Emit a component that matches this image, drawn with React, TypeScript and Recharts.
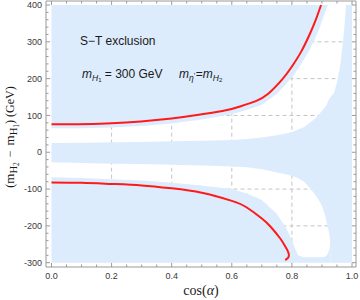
import React from 'react';
import { ComposedChart, Area, Line, XAxis, YAxis } from 'recharts';

// ---- region boundaries (read at common cos(alpha) samples) ----
const xs = [0, 0.1, 0.2, 0.3, 0.4, 0.5, 0.6, 0.65, 0.7, 0.75, 0.78, 0.8, 0.81, 0.82, 0.84, 0.86, 0.88, 0.89, 0.9, 0.91, 0.915, 0.92, 0.925, 0.927, 0.928, 0.93, 0.94, 0.95, 0.96, 0.97, 0.975, 0.98, 1.0];
// upper allowed (white) band: top edge and bottom edge
const upperWhiteTop = [65, 65, 67, 71, 78, 89, 103, 115, 129, 159, 185, 204, 214, 226, 252, 280, 314, 333, 356, 378, 389, 400, 400, 400, 400, 400, 400, 400, 400, 400, 400, 400, 400];
const upperWhiteBottom = [25, 26, 27, 28, 30, 31, 33, 36, 40, 46, 51, 55, 58, 62, 68, 80, 93, 103, 112, 122, 128, 138, 146, 148, 149, 152, 160, 190, 232, 300, 345, 400, 400];
// lower allowed (white) band: top edge and bottom edge
const lowerWhiteTop = [-27, -29, -31, -32, -34, -36, -39, -41, -46, -55, -60, -64, -67, -70, -80, -97, -118, -131, -145, -170, -188, -205, -225, -240, -300, -300, -300, -300, -300, -300, -300, -300, -300];
const lowerWhiteBottom = [-68, -70, -73, -77, -83, -90, -100, -112, -130, -168, -205, -238, -260, -280, -285, -285, -285, -285, -285, -284, -281, -275, -262, -250, -300, -300, -300, -300, -300, -300, -300, -300, -300];

// ---- red curves ----
const redUpperX = [0, 0.2, 0.4, 0.5, 0.58, 0.63, 0.68, 0.72, 0.77, 0.8, 0.83, 0.86, 0.88, 0.897];
const redUpperY = [76, 79, 92, 103, 114, 125, 139, 158, 200, 233, 272, 322, 361, 400];
const redLowerX = [0, 0.1, 0.2, 0.3, 0.4, 0.5, 0.6, 0.65, 0.7, 0.73, 0.76, 0.775, 0.786, 0.79, 0.787, 0.778];
const redLowerY = [-82, -83, -86, -90, -98, -110, -132, -150, -180, -203, -233, -252, -268, -279, -287, -293];

// ---- ticks & grid ----
const xMajor = [0, 0.2, 0.4, 0.6, 0.8, 1.0];
const xTickLabels = ['0.0', '0.2', '0.4', '0.6', '0.8', '1.0'];
const xMinor = [0.05, 0.1, 0.15, 0.25, 0.3, 0.35, 0.45, 0.5, 0.55, 0.65, 0.7, 0.75, 0.85, 0.9, 0.95];
const yMajor = [-300, -200, -100, 0, 100, 200, 300, 400];
const yTickLabels = ['-300', '-200', '-100', '0', '100', '200', '300', '400'];
const yMinor = [-280, -260, -240, -220, -180, -160, -140, -120, -80, -60, -40, -20, 20, 40, 60, 80, 120, 140, 160, 180, 220, 240, 260, 280, 320, 340, 360, 380];
const gridX = [0.2, 0.4, 0.6, 0.8];
const gridY = [-200, -100, 0, 100, 200, 300];

const X_DOMAIN: [number, number] = [-0.0183, 1.0133];
const Y_DOMAIN: [number, number] = [-311.7, 410.9];
const X_MIN = 0;
const X_MAX = 1;
const Y_MIN = -300;
const Y_MAX = 400;

const BLUE = '#dcecfd';
const RED = '#ff1a1a';
const FRAME = '#9a9a9a';
const GRID = '#c4c4c4';
const LABEL = '#3a3a3a';
const SANS = 'Liberation Sans, Arial, sans-serif';
const SERIF = 'Liberation Serif, Times New Roman, serif';

const blueRows = xs.map((x, i) => ({
  x,
  top: [upperWhiteTop[i], Y_MAX],
  mid: [lowerWhiteTop[i], upperWhiteBottom[i]],
  bot: [Y_MIN, lowerWhiteBottom[i]],
}));
const redUpper = redUpperX.map((x, i) => ({ x, y: redUpperY[i] }));
const redLower = redLowerX.map((x, i) => ({ x, y: redLowerY[i] }));
const gridVertical = gridX.map((g) => [{ x: g, y: Y_MIN }, { x: g, y: Y_MAX }]);
const gridHorizontal = gridY.map((g) => [{ x: X_MIN, y: g }, { x: X_MAX, y: g }]);

const xTicks = [...xMajor, ...xMinor].sort((a, b) => a - b);
const yTicks = [...yMajor, ...yMinor].sort((a, b) => a - b);

const near = (a: number, b: number) => Math.abs(a - b) < 1e-6;

const makeXTick = (side: 'bottom' | 'top') => (props: any) => {
  const { x, y, payload } = props;
  const v = payload.value;
  const idx = xMajor.findIndex((m) => near(m, v));
  const len = idx >= 0 ? 4 : 2.5;
  const dir = side === 'bottom' ? -1 : 1;
  return (
    <g>
      <line x1={x} x2={x} y1={y} y2={y + dir * len} stroke={FRAME} strokeWidth={1} />
      {side === 'bottom' && idx >= 0 && (
        <text x={x} y={y + 11.5} textAnchor="middle" fontSize={9} fontFamily={SANS} fill={LABEL}>
          {xTickLabels[idx]}
        </text>
      )}
    </g>
  );
};

const makeYTick = (side: 'left' | 'right') => (props: any) => {
  const { x, y, payload } = props;
  const v = payload.value;
  const idx = yMajor.findIndex((m) => near(m, v));
  const len = idx >= 0 ? 4 : 2.5;
  const dir = side === 'left' ? 1 : -1;
  return (
    <g>
      <line x1={x} x2={x + dir * len} y1={y} y2={y} stroke={FRAME} strokeWidth={1} />
      {side === 'left' && idx >= 0 && (
        <text x={x - 4} y={y + 3.2} textAnchor="end" fontSize={9} fontFamily={SANS} fill={LABEL}>
          {yTickLabels[idx]}
        </text>
      )}
    </g>
  );
};

const gridLineProps: any = {
  xAxisId: 'b',
  yAxisId: 'l',
  dataKey: 'y',
  type: 'linear',
  stroke: GRID,
  strokeWidth: 1,
  strokeDasharray: '4 3',
  dot: false,
  activeDot: false,
  isAnimationActive: false,
  zIndex: 0,
};

const areaProps: any = {
  xAxisId: 'b',
  yAxisId: 'l',
  type: 'linear',
  stroke: 'none',
  fill: BLUE,
  fillOpacity: 1,
  dot: false,
  activeDot: false,
  isAnimationActive: false,
  zIndex: 100,
};

export default function App() {
  return (
    <div style={{ position: 'absolute', left: 0, top: 0, width: 360, height: 300 }}>
      <ComposedChart
        width={360}
        height={300}
        data={blueRows}
        margin={{ top: 0, right: 3, bottom: 32, left: 45 }}
      >
        {gridVertical.map((d, i) => (
          <Line key={`gv${i}`} {...gridLineProps} data={d} />
        ))}
        {gridHorizontal.map((d, i) => (
          <Line key={`gh${i}`} {...gridLineProps} data={d} />
        ))}
        <Area {...areaProps} dataKey="top" />
        <Area {...areaProps} dataKey="mid" />
        <Area {...areaProps} dataKey="bot" />
        <Line xAxisId="b" yAxisId="l" data={redUpper} dataKey="y" type="natural" stroke={RED} strokeWidth={2} dot={false} activeDot={false} isAnimationActive={false} zIndex={400} />
        <Line xAxisId="b" yAxisId="l" data={redLower} dataKey="y" type="natural" stroke={RED} strokeWidth={2} dot={false} activeDot={false} isAnimationActive={false} zIndex={400} />
        <XAxis
          xAxisId="b"
          dataKey="x"
          type="number"
          orientation="bottom"
          domain={X_DOMAIN}
          allowDataOverflow
          ticks={xTicks}
          interval={0}
          height={1}
          tickSize={0}
          tickMargin={0}
          tickLine={false}
          axisLine={{ stroke: FRAME }}
          tick={makeXTick('bottom')}
        />
        <XAxis
          xAxisId="t"
          dataKey="x"
          type="number"
          orientation="top"
          domain={X_DOMAIN}
          allowDataOverflow
          ticks={xTicks}
          interval={0}
          height={1}
          tickSize={0}
          tickMargin={0}
          tickLine={false}
          axisLine={{ stroke: FRAME }}
          tick={makeXTick('top')}
        />
        <YAxis
          yAxisId="l"
          type="number"
          orientation="left"
          domain={Y_DOMAIN}
          allowDataOverflow
          ticks={yTicks}
          interval={0}
          width={1}
          tickSize={0}
          tickMargin={0}
          tickLine={false}
          axisLine={{ stroke: FRAME }}
          tick={makeYTick('left')}
        />
        <YAxis
          yAxisId="r"
          type="number"
          orientation="right"
          domain={Y_DOMAIN}
          allowDataOverflow
          ticks={yTicks}
          interval={0}
          width={1}
          tickSize={0}
          tickMargin={0}
          tickLine={false}
          axisLine={{ stroke: FRAME }}
          tick={makeYTick('right')}
        />
      </ComposedChart>
      <svg width={360} height={300} style={{ position: 'absolute', left: 0, top: 0, pointerEvents: 'none' }}>
        <text x={80} y={44.5} fontSize={12} fontFamily={SANS} fill="#1a1a1a">S−T exclusion</text>
        <text x={82} y={77.5} fontSize={12} fontFamily={SANS} fill="#1a1a1a">
          <tspan fontStyle="italic">m</tspan>
          <tspan fontSize={8.5} fontStyle="italic" dy={3}>H</tspan>
          <tspan fontSize={6} dy={1.5}>1</tspan>
          <tspan dy={-4.5}> = 300 GeV</tspan>
        </text>
        <text x={179} y={77.5} fontSize={12} fontFamily={SANS} fill="#1a1a1a">
          <tspan fontStyle="italic">m</tspan>
          <tspan fontSize={8.5} fontStyle="italic" dy={3}>η</tspan>
          <tspan fontSize={8} dy={-2.5}>'</tspan>
          <tspan dy={-0.5} dx={0.5}>=</tspan>
          <tspan fontStyle="italic">m</tspan>
          <tspan fontSize={8.5} fontStyle="italic" dy={3}>H</tspan>
          <tspan fontSize={6} dy={1.5}>2</tspan>
        </text>
        <text transform="translate(14,137) rotate(-90)" textAnchor="middle" fontSize={12} fontFamily={SERIF} fill="#1a1a1a">
          <tspan>(</tspan>
          <tspan fontSize={13}>m</tspan>
          <tspan fontSize={10.5} dy={3}>H</tspan>
          <tspan fontSize={7.5} dy={1.5}>2</tspan>
          <tspan dy={-4.5} dx={5}>−</tspan>
          <tspan fontSize={13} dx={5}>m</tspan>
          <tspan fontSize={10.5} dy={3}>H</tspan>
          <tspan fontSize={7.5} dy={1.5}>1</tspan>
          <tspan dy={-4.5}>{') (GeV)'}</tspan>
        </text>
        <text x={201} y={295} textAnchor="middle" fontSize={14} fontFamily={SERIF} fill="#1a1a1a">
          cos(<tspan fontStyle="italic">α</tspan>)
        </text>
      </svg>
    </div>
  );
}
